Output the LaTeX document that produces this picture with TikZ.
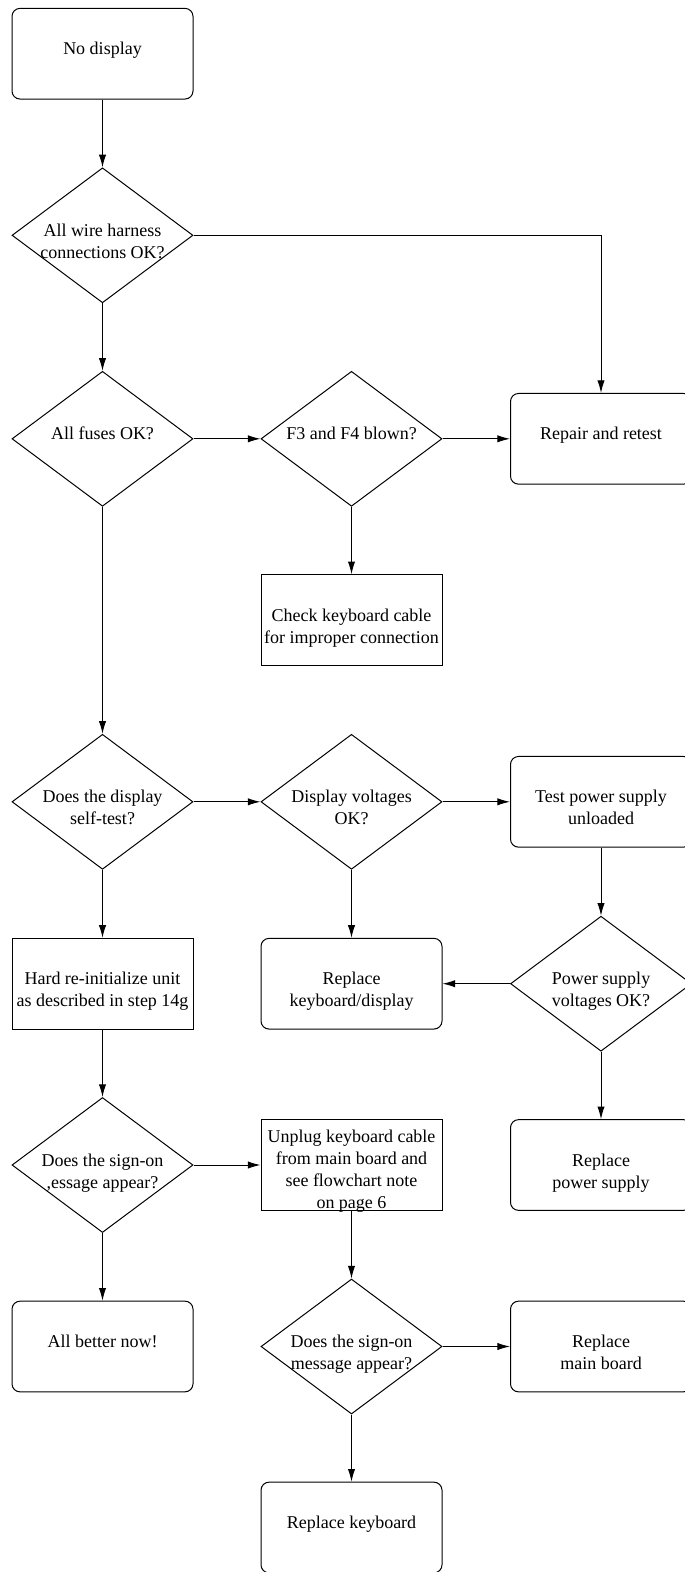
\documentclass[tikz,border=0pt]{standalone}
\usepackage{fontspec}
\setmainfont{Liberation Serif}
\usetikzlibrary{shapes.geometric, arrows.meta}

\begin{document}
\begin{tikzpicture}[x = 0.75pt, y = -0.75pt, line width = 0.75pt,
    >= {Latex[length = 9.5pt, width = 5.5pt]},
    every node/.style = {font = \fontsize{13.5}{16.5}\selectfont, align = center,
        inner sep = 0pt, text height = 1.5pt, text depth = 0pt},
    twoline/.style = {text height = 34.5pt},
    fourline/.style = {text height = 64.5pt},
    question/.style = {shape = diamond, draw, aspect = 1.34, inner sep = -1.5pt,
        minimum width = 135.75pt, minimum height = 101.25pt},
    roundbox/.style = {shape = rectangle, draw, rounded corners = 6pt,
        minimum width = 135.75pt, minimum height = 68pt},
    squarebox/.style = {shape = rectangle, draw,
        minimum width = 135.75pt, minimum height = 68pt}]
    \useasboundingbox (0, 0) rectangle (685, 1572);
    % left column
    \node[roundbox] (nodisplay) at (102.5, 53.7) {No display};
    \node[question, twoline] (wire) at (102.5, 235.3) {All wire harness\\connections OK?};
    \node[question] (fuses) at (102.5, 438.8) {All fuses OK?};
    \node[question, twoline] (selftest) at (102.5, 801.8) {Does the display\\self-test?};
    \node[squarebox, twoline] (hardinit) at (102.5, 983.7) {Hard re-initialize unit\\as described in step 14g};
    \node[question, twoline] (signon) at (102.5, 1165) {Does the sign-on\\,essage appear?};
    \node[roundbox] (better) at (102.5, 1346.5) {All better now!};
    % middle column
    \node[question] (blown) at (351.5, 438.8) {F3 and F4 blown?};
    \node[squarebox, twoline] (cable) at (351.5, 620) {Check keyboard cable\\for improper connection};
    \node[question, twoline] (dispvolt) at (351.5, 801.8) {Display voltages\\OK?};
    \node[roundbox, twoline] (keydisp) at (351.5, 983.7) {Replace\\keyboard/display};
    \node[squarebox, fourline] (unplug) at (351.5, 1165)
        {Unplug keyboard cable\\from main board and\\see flowchart note\\on page 6};
    \node[question, twoline] (signontwo) at (351.5, 1346.5) {Does the sign-on\\message appear?};
    \node[roundbox] (keyboard) at (351.5, 1527.5) {Replace keyboard};
    % right column
    \node[roundbox] (repair) at (601, 438.8) {Repair and retest};
    \node[roundbox, twoline] (testps) at (601, 801.8) {Test power supply\\unloaded};
    \node[question, twoline] (psvolt) at (601, 983.7) {Power supply\\voltages OK?};
    \node[roundbox, twoline] (newps) at (601, 1165) {Replace\\power supply};
    \node[roundbox, twoline] (mainboard) at (601, 1346.5) {Replace\\main board};

    \draw[->] (nodisplay) -- (wire);
    \draw[->] (wire) -| (repair);
    \draw[->] (wire) -- (fuses);
    \draw[->] (fuses) -- (blown);
    \draw[->] (blown) -- (repair);
    \draw[->] (blown) -- (cable);
    \draw[->] (fuses) -- (selftest);
    \draw[->] (selftest) -- (dispvolt);
    \draw[->] (dispvolt) -- (testps);
    \draw[->] (dispvolt) -- (keydisp);
    \draw[->] (testps) -- (psvolt);
    \draw[->] (psvolt) -- (keydisp);
    \draw[->] (psvolt) -- (newps);
    \draw[->] (selftest) -- (hardinit);
    \draw[->] (hardinit) -- (signon);
    \draw[->] (signon) -- (unplug);
    \draw[->] (signon) -- (better);
    \draw[->] (unplug) -- (signontwo);
    \draw[->] (signontwo) -- (mainboard);
    \draw[->] (signontwo) -- (keyboard);
\end{tikzpicture}
\end{document}
